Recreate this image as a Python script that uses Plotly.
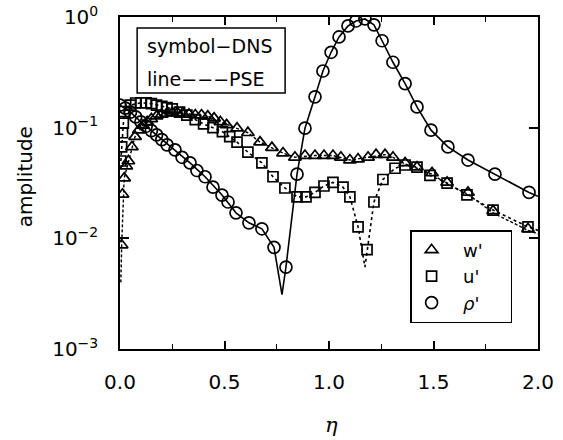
import plotly.graph_objects as go

# ---------------- data ----------------
eta_rho = [0.0, 0.025, 0.05, 0.075, 0.1, 0.125, 0.15, 0.175, 0.2, 0.225, 0.263, 0.297,
           0.335, 0.368, 0.407, 0.445, 0.488, 0.517, 0.555, 0.617, 0.679, 0.737, 0.794,
           0.847, 0.885, 0.933, 0.971, 1.01, 1.048, 1.091, 1.129, 1.172, 1.215, 1.254,
           1.306, 1.364, 1.421, 1.488, 1.569, 1.665, 1.794, 1.957]
rho_dns = [0.16, 0.15, 0.138, 0.125, 0.113, 0.103, 0.094, 0.086, 0.078, 0.070, 0.063, 0.054,
           0.048, 0.041, 0.036, 0.029, 0.0246, 0.0213, 0.017, 0.0138, 0.0122, 0.0083, 0.0055,
           0.038, 0.099, 0.19, 0.325, 0.48, 0.66, 0.83, 0.92, 0.96, 0.85, 0.61,
           0.39, 0.25, 0.154, 0.095, 0.067, 0.051, 0.038, 0.026]

eta_rho_pse = [0.0, 0.05, 0.1, 0.15, 0.2, 0.263, 0.335, 0.407, 0.488, 0.555, 0.617, 0.679,
               0.737, 0.775, 0.794, 0.847, 0.885, 0.933, 0.971, 1.01, 1.048, 1.091, 1.129,
               1.172, 1.215, 1.254, 1.306, 1.364, 1.421, 1.488, 1.569, 1.665, 1.794, 1.957, 2.0]
rho_pse = [0.16, 0.138, 0.113, 0.094, 0.078, 0.063, 0.048, 0.036, 0.0246, 0.017, 0.0138, 0.0122,
           0.0083, 0.0031, 0.0055, 0.038, 0.099, 0.19, 0.325, 0.48, 0.66, 0.83, 0.92,
           0.96, 0.85, 0.61, 0.39, 0.25, 0.154, 0.095, 0.067, 0.051, 0.038, 0.026, 0.024]

eta_u = [0.004, 0.008, 0.012, 0.016, 0.02, 0.05, 0.075, 0.1, 0.125, 0.15, 0.175, 0.2, 0.225,
         0.25, 0.285, 0.32, 0.36, 0.4, 0.445, 0.49, 0.525, 0.56, 0.612, 0.679, 0.732, 0.789,
         0.847, 0.89, 0.933, 0.976, 1.019, 1.067, 1.10, 1.139, 1.182, 1.215, 1.258, 1.316,
         1.364, 1.421, 1.483, 1.565, 1.66, 1.785, 1.952]
u_dns = [0.05, 0.067, 0.09, 0.11, 0.14, 0.16, 0.167, 0.168, 0.168, 0.165, 0.16, 0.156, 0.152,
         0.148, 0.138, 0.13, 0.118, 0.108, 0.1, 0.092, 0.083, 0.074, 0.06, 0.048, 0.036, 0.0285,
         0.0237, 0.0237, 0.026, 0.0297, 0.032, 0.029, 0.0237, 0.0127, 0.0079, 0.0213, 0.034, 0.043,
         0.046, 0.044, 0.037, 0.0316, 0.0247, 0.018, 0.0127]

eta_u_pse = [0.004, 0.012, 0.02, 0.05, 0.1, 0.15, 0.2, 0.25, 0.32, 0.4, 0.49, 0.56, 0.612,
             0.679, 0.732, 0.789, 0.847, 0.89, 0.933, 0.976, 1.019, 1.067, 1.10, 1.139, 1.172,
             1.215, 1.258, 1.316, 1.364, 1.421, 1.483, 1.565, 1.66, 1.785, 1.952, 2.0]
u_pse = [0.05, 0.09, 0.14, 0.16, 0.168, 0.165, 0.156, 0.148, 0.13, 0.108, 0.092, 0.074, 0.06,
         0.048, 0.036, 0.0285, 0.0237, 0.0237, 0.026, 0.0297, 0.032, 0.029, 0.0237, 0.0127, 0.0055,
         0.0213, 0.034, 0.043, 0.046, 0.044, 0.037, 0.0316, 0.0247, 0.018, 0.0127, 0.0118]

eta_w = [0.008, 0.012, 0.02, 0.03, 0.04, 0.057, 0.072, 0.09, 0.11, 0.13, 0.15, 0.175, 0.2,
         0.225, 0.25, 0.275, 0.3, 0.33, 0.36, 0.39, 0.42, 0.45, 0.48, 0.51, 0.56, 0.612, 0.67,
         0.727, 0.78, 0.837, 0.885, 0.933, 0.976, 1.019, 1.057, 1.10, 1.139, 1.187, 1.225,
         1.268, 1.306, 1.364, 1.421, 1.493, 1.565, 1.665, 1.785, 1.952]
w_dns = [0.0087, 0.025, 0.035, 0.045, 0.05, 0.067, 0.083, 0.095, 0.105, 0.113, 0.12, 0.127, 0.132,
         0.135, 0.136, 0.136, 0.135, 0.132, 0.13, 0.13, 0.127, 0.122, 0.113, 0.106, 0.099, 0.09, 0.074,
         0.066, 0.059, 0.054, 0.056, 0.056, 0.056, 0.056, 0.054, 0.051, 0.052, 0.054, 0.057,
         0.057, 0.054, 0.048, 0.044, 0.039, 0.032, 0.026, 0.0177, 0.0122]

eta_w_pse = [0.004, 0.008, 0.02, 0.04, 0.072, 0.11, 0.15, 0.2, 0.25, 0.3, 0.36, 0.42, 0.48,
             0.56, 0.612, 0.67, 0.727, 0.78, 0.837, 0.933, 1.019, 1.10, 1.187, 1.268, 1.306,
             1.364, 1.421, 1.493, 1.565, 1.665, 1.785, 1.952, 2.0]
w_pse = [0.004, 0.0087, 0.035, 0.05, 0.083, 0.105, 0.12, 0.132, 0.136, 0.135, 0.13, 0.127, 0.113,
         0.099, 0.09, 0.074, 0.066, 0.059, 0.054, 0.056, 0.056, 0.051, 0.054, 0.057, 0.054,
         0.047, 0.043, 0.038, 0.031, 0.025, 0.017, 0.0118, 0.011]

y_tickvals = [0.001, 0.01, 0.1, 1]
y_ticktext = ["10<sup>−3</sup>", "10<sup>−2</sup>", "10<sup>−1</sup>", "10<sup>0</sup>"]
x_tickvals = [0.0, 0.5, 1.0, 1.5, 2.0]
x_ticktext = ["0.0", "0.5", "1.0", "1.5", "2.0"]
legend_names = ["\u00a0\u00a0w'\u00a0\u00a0\u00a0\u00a0", "\u00a0\u00a0u'\u00a0\u00a0\u00a0\u00a0",
                "\u00a0\u00a0<i>ρ</i>'\u00a0\u00a0\u00a0\u00a0"]

FONT = "DejaVu Sans"
BLACK = "black"

fig = go.Figure()

# PSE lines
fig.add_trace(go.Scatter(x=eta_rho_pse, y=rho_pse, mode="lines",
                         line=dict(color=BLACK, width=1.6), showlegend=False, hoverinfo="skip"))
fig.add_trace(go.Scatter(x=eta_u_pse, y=u_pse, mode="lines",
                         line=dict(color=BLACK, width=1.6, dash="dot"), showlegend=False, hoverinfo="skip"))
fig.add_trace(go.Scatter(x=eta_w_pse, y=w_pse, mode="lines",
                         line=dict(color=BLACK, width=1.4, dash="3px,2px"), showlegend=False, hoverinfo="skip"))

# DNS symbols
fig.add_trace(go.Scatter(x=eta_w, y=w_dns, mode="markers", name=legend_names[0],
                         marker=dict(symbol="triangle-up-open", size=11, color=BLACK,
                                     line=dict(width=1.7, color=BLACK))))
fig.add_trace(go.Scatter(x=eta_u, y=u_dns, mode="markers", name=legend_names[1],
                         marker=dict(symbol="square-open", size=10, color=BLACK,
                                     line=dict(width=1.7, color=BLACK))))
fig.add_trace(go.Scatter(x=eta_rho, y=rho_dns, mode="markers", name=legend_names[2],
                         marker=dict(symbol="circle-open", size=12, color=BLACK,
                                     line=dict(width=1.7, color=BLACK))))

fig.update_layout(
    width=563, height=440,
    margin=dict(l=120, r=25, t=17, b=91, autoexpand=False),
    paper_bgcolor="white", plot_bgcolor="white",
    font=dict(family=FONT, size=18, color=BLACK),
    showlegend=True,
    legend=dict(x=0.938, y=0.078, xanchor="right", yanchor="bottom",
                bordercolor=BLACK, borderwidth=1.5, bgcolor="white",
                font=dict(family=FONT, size=18, color=BLACK),
                itemwidth=30, tracegroupgap=0),
    xaxis=dict(range=[0, 2], tickvals=x_tickvals, ticktext=x_ticktext,
               ticks="inside", ticklen=8, tickwidth=1.5, tickcolor=BLACK,
               showline=True, linecolor=BLACK, linewidth=1.5, mirror="ticks",
               showgrid=False, zeroline=False, automargin=False,
               ticklabelstandoff=14,
               minor=dict(tickvals=[0.25, 0.75, 1.25, 1.75], ticks="inside", ticklen=5,
                          tickwidth=1.2, tickcolor=BLACK, showgrid=False),
               tickfont=dict(family=FONT, size=20)),
    yaxis=dict(type="log", range=[-3, 0], tickvals=y_tickvals, ticktext=y_ticktext,
               ticks="inside", ticklen=9, tickwidth=1.5, tickcolor=BLACK,
               showline=True, linecolor=BLACK, linewidth=1.5, mirror="ticks",
               showgrid=False, zeroline=False, automargin=False,
               ticklabelstandoff=16,
               tickfont=dict(family=FONT, size=20)),
    shapes=[dict(type="rect", xref="paper", yref="paper", x0=0.041, x1=0.395, y0=0.771, y1=0.967,
                 line=dict(color=BLACK, width=1.5), fillcolor="white", layer="above")],
    annotations=[
        dict(xref="paper", yref="paper", x=0.060, y=0.912, xanchor="left", yanchor="middle",
             text="symbol−DNS", showarrow=False, font=dict(family=FONT, size=19, color=BLACK)),
        dict(xref="paper", yref="paper", x=0.060, y=0.812, xanchor="left", yanchor="middle",
             text="line−−−PSE", showarrow=False, font=dict(family=FONT, size=19, color=BLACK)),
        dict(xref="paper", yref="paper", x=-0.227, y=0.518, xanchor="center", yanchor="middle",
             text="amplitude", textangle=-90, showarrow=False,
             font=dict(family=FONT, size=20, color=BLACK)),
        dict(xref="paper", yref="paper", x=0.505, y=-0.229, xanchor="center", yanchor="middle",
             text="<i>η</i>", showarrow=False,
             font=dict(family="DejaVu Serif", size=21, color=BLACK)),
    ],
)

fig.write_html("out.html", config={"displayModeBar": False},
               post_script="document.body.style.margin='0';")
